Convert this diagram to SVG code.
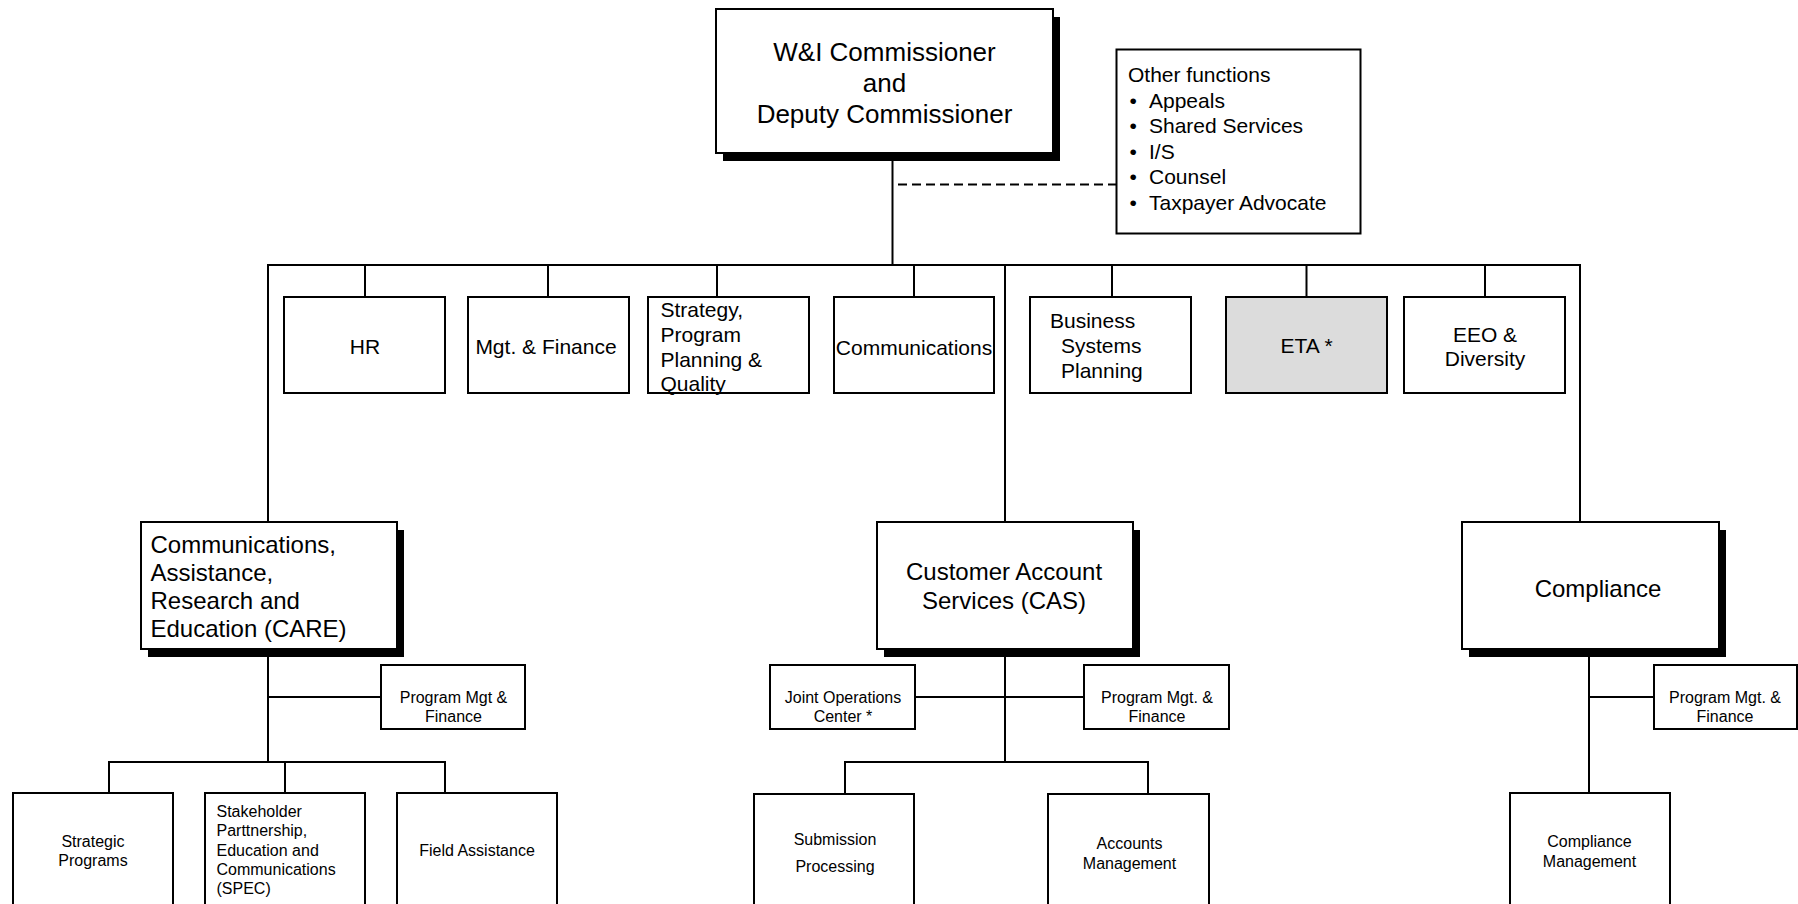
<svg xmlns="http://www.w3.org/2000/svg" width="1798" height="904" viewBox="0 0 1798 904">
<style>
.bg{fill:#fff}
.box{fill:#fff;stroke:#000;stroke-width:2}
.gray{fill:#dcdcdc}
.shadow{fill:#000}
.ln{stroke:#000;stroke-width:2;fill:none}
.dash{stroke-dasharray:9 5}
text{font-family:"Liberation Sans",Arial,sans-serif;fill:#000}
.f26{font-size:26px}
.f24{font-size:24px}
.f21{font-size:21px}
.f16{font-size:16px}
.m{text-anchor:middle}
</style>
<rect class="bg" x="0" y="0" width="1798" height="904"/>
<g id="connectors">
<line class="ln" x1="892.5" y1="153" x2="892.5" y2="265"/>
<line class="ln dash" x1="898" y1="184.5" x2="1116" y2="184.5"/>
<line class="ln" x1="267" y1="265" x2="1581" y2="265"/>
<line class="ln" x1="365" y1="265" x2="365" y2="297"/>
<line class="ln" x1="548" y1="265" x2="548" y2="297"/>
<line class="ln" x1="717" y1="265" x2="717" y2="297"/>
<line class="ln" x1="914" y1="265" x2="914" y2="297"/>
<line class="ln" x1="1112" y1="265" x2="1112" y2="297"/>
<line class="ln" x1="1306.5" y1="265" x2="1306.5" y2="297"/>
<line class="ln" x1="1485" y1="265" x2="1485" y2="297"/>
<line class="ln" x1="268" y1="265" x2="268" y2="522"/>
<line class="ln" x1="1005" y1="265" x2="1005" y2="522"/>
<line class="ln" x1="1580" y1="265" x2="1580" y2="522"/>
<line class="ln" x1="268" y1="649" x2="268" y2="762"/>
<line class="ln" x1="268" y1="697" x2="381" y2="697"/>
<line class="ln" x1="108" y1="762" x2="446" y2="762"/>
<line class="ln" x1="109" y1="762" x2="109" y2="793"/>
<line class="ln" x1="285" y1="762" x2="285" y2="793"/>
<line class="ln" x1="445" y1="762" x2="445" y2="793"/>
<line class="ln" x1="1005" y1="649" x2="1005" y2="762"/>
<line class="ln" x1="915" y1="697" x2="1084" y2="697"/>
<line class="ln" x1="844" y1="762" x2="1149" y2="762"/>
<line class="ln" x1="845" y1="762" x2="845" y2="794"/>
<line class="ln" x1="1148" y1="762" x2="1148" y2="794"/>
<line class="ln" x1="1589" y1="649" x2="1589" y2="793"/>
<line class="ln" x1="1589" y1="697" x2="1654" y2="697"/>
</g>
<g id="commissioner">
<rect class="shadow" x="723" y="17" width="337" height="144"/>
<rect class="box" x="716" y="9" width="337" height="144"/>
<text class="f26 m" x="884.5" y="61">W&amp;I Commissioner</text>
<text class="f26 m" x="884.5" y="92">and</text>
<text class="f26 m" x="884.5" y="123">Deputy Commissioner</text>
</g>
<g id="other-functions">
<rect class="box" x="1116.5" y="49.5" width="244" height="184"/>
<text class="f21" x="1128" y="82">Other functions</text>
<text class="f21" x="1129.5" y="107.5">•</text><text class="f21" x="1149" y="107.5">Appeals</text>
<text class="f21" x="1129.5" y="133">•</text><text class="f21" x="1149" y="133">Shared Services</text>
<text class="f21" x="1129.5" y="158.5">•</text><text class="f21" x="1149" y="158.5">I/S</text>
<text class="f21" x="1129.5" y="184">•</text><text class="f21" x="1149" y="184">Counsel</text>
<text class="f21" x="1129.5" y="209.5">•</text><text class="f21" x="1149" y="209.5">Taxpayer Advocate</text>
</g>
<g id="hr">
<rect class="box" x="284" y="297" width="161" height="96"/>
<text class="f21 m" x="365" y="354">HR</text>
</g>
<g id="mgt-finance">
<rect class="box" x="468" y="297" width="161" height="96"/>
<text class="f21 m" x="546" y="354">Mgt. &amp; Finance</text>
</g>
<g id="strategy">
<rect class="box" x="648" y="297" width="161" height="96"/>
<text class="f21" x="660.5" y="317">Strategy,</text>
<text class="f21" x="660.5" y="342">Program</text>
<text class="f21" x="660.5" y="366.5">Planning &amp;</text>
<text class="f21" x="660.5" y="391">Quality</text>
</g>
<g id="communications">
<rect class="box" x="834" y="297" width="160" height="96"/>
<text class="f21 m" x="914" y="355">Communications</text>
</g>
<g id="business-systems-planning">
<rect class="box" x="1030" y="297" width="161" height="96"/>
<text class="f21" x="1050" y="328">Business</text>
<text class="f21" x="1061" y="353">Systems</text>
<text class="f21" x="1061" y="378">Planning</text>
</g>
<g id="eta">
<rect class="box gray" x="1226" y="297" width="161" height="96"/>
<text class="f21 m" x="1306.5" y="353">ETA *</text>
</g>
<g id="eeo">
<rect class="box" x="1404" y="297" width="161" height="96"/>
<text class="f21 m" x="1485" y="342">EEO &amp;</text>
<text class="f21 m" x="1485" y="366">Diversity</text>
</g>
<g id="care">
<rect class="shadow" x="148" y="530" width="256" height="127"/>
<rect class="box" x="141" y="522" width="256" height="127"/>
<text class="f24" x="150.5" y="553">Communications,</text>
<text class="f24" x="150.5" y="581">Assistance,</text>
<text class="f24" x="150.5" y="609">Research and</text>
<text class="f24" x="150.5" y="637">Education (CARE)</text>
</g>
<g id="care-pmf">
<rect class="box" x="381" y="665" width="144" height="64"/>
<text class="f16 m" x="453.5" y="702.5">Program Mgt &amp;</text>
<text class="f16 m" x="453.5" y="721.5">Finance</text>
</g>
<g id="strategic-programs">
<rect class="box" x="13" y="793" width="160" height="130"/>
<text class="f16 m" x="93" y="846.5">Strategic</text>
<text class="f16 m" x="93" y="865.5">Programs</text>
</g>
<g id="spec">
<rect class="box" x="205" y="793" width="160" height="130"/>
<text class="f16" x="216.5" y="817">Stakeholder</text>
<text class="f16" x="216.5" y="836">Parttnership,</text>
<text class="f16" x="216.5" y="855.5">Education and</text>
<text class="f16" x="216.5" y="874.5">Communications</text>
<text class="f16" x="216.5" y="893.5">(SPEC)</text>
</g>
<g id="field-assistance">
<rect class="box" x="397" y="793" width="160" height="130"/>
<text class="f16 m" x="477" y="856">Field Assistance</text>
</g>
<g id="cas">
<rect class="shadow" x="884" y="530" width="256" height="127"/>
<rect class="box" x="877" y="522" width="256" height="127"/>
<text class="f24 m" x="1004" y="580">Customer Account</text>
<text class="f24 m" x="1004" y="609">Services (CAS)</text>
</g>
<g id="joc">
<rect class="box" x="770" y="665" width="145" height="64"/>
<text class="f16 m" x="843" y="702.5">Joint Operations</text>
<text class="f16 m" x="843" y="721.5">Center *</text>
</g>
<g id="cas-pmf">
<rect class="box" x="1084" y="665" width="145" height="64"/>
<text class="f16 m" x="1157" y="702.5">Program Mgt. &amp;</text>
<text class="f16 m" x="1157" y="721.5">Finance</text>
</g>
<g id="submission-processing">
<rect class="box" x="754" y="794" width="160" height="130"/>
<text class="f16 m" x="835" y="844.5">Submission</text>
<text class="f16 m" x="835" y="871.5">Processing</text>
</g>
<g id="accounts-management">
<rect class="box" x="1048" y="794" width="161" height="130"/>
<text class="f16 m" x="1129.5" y="848.5">Accounts</text>
<text class="f16 m" x="1129.5" y="868.5">Management</text>
</g>
<g id="compliance">
<rect class="shadow" x="1469" y="530" width="257" height="127"/>
<rect class="box" x="1462" y="522" width="257" height="127"/>
<text class="f24 m" x="1598" y="596.5">Compliance</text>
</g>
<g id="compliance-pmf">
<rect class="box" x="1654" y="665" width="143" height="64"/>
<text class="f16 m" x="1725" y="702.5">Program Mgt. &amp;</text>
<text class="f16 m" x="1725" y="721.5">Finance</text>
</g>
<g id="compliance-management">
<rect class="box" x="1510" y="793" width="160" height="130"/>
<text class="f16 m" x="1589.5" y="846.5">Compliance</text>
<text class="f16 m" x="1589.5" y="866.5">Management</text>
</g>
</svg>
